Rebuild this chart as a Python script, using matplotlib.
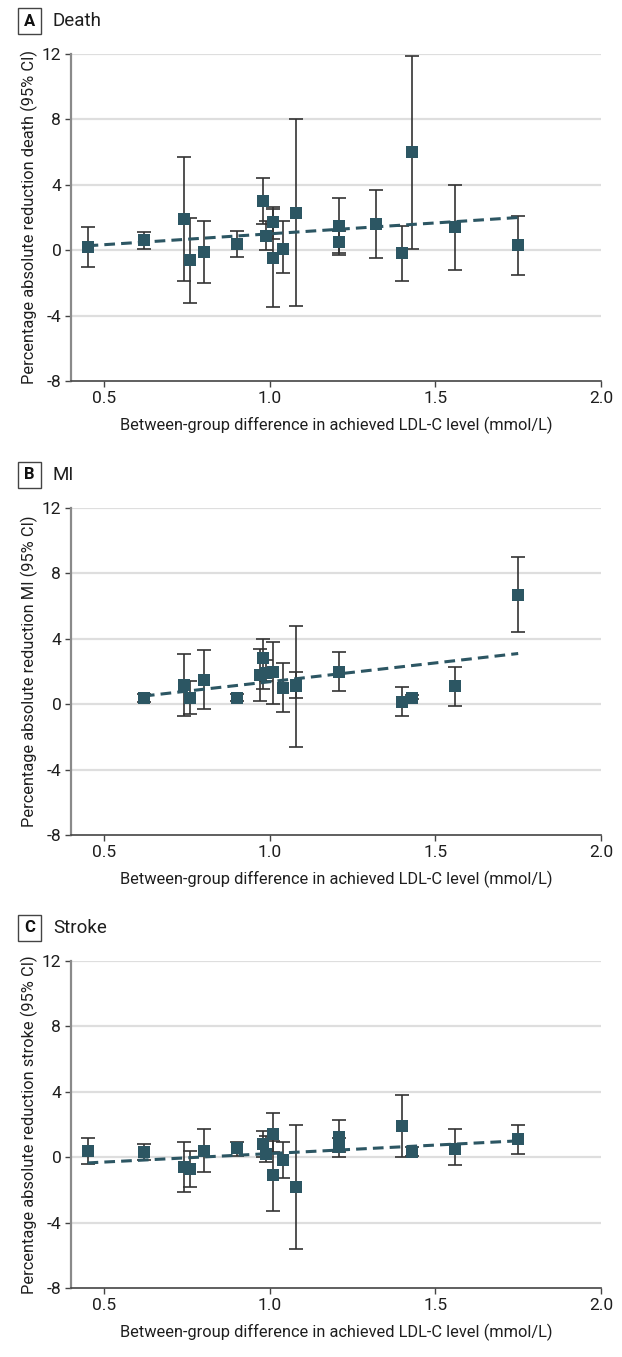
import matplotlib
matplotlib.use('Agg')
import matplotlib.pyplot as plt

plt.rcParams['font.family'] = ['Roboto', 'DejaVu Sans']
plt.rcParams['axes.unicode_minus'] = False

FIG_W = 622
FIG_H = 1357
DPI = 100

MARK_COLOR = '#2c5663'
BAR_COLOR = '#333333'
GRID_COLOR = '#dedede'
TEXT_COLOR = '#1e1e1e'

# Panel A: death
death_x = [0.45, 0.62, 0.74, 0.76, 0.80, 0.90, 0.98, 0.99, 1.01, 1.01, 1.04, 1.08, 1.21, 1.21, 1.32, 1.40, 1.43, 1.56, 1.75]
death_y = [0.2, 0.6, 1.9, -0.6, -0.1, 0.35, 3.0, 0.85, 1.7, -0.5, 0.05, 2.25, 1.45, 0.5, 1.6, -0.2, 6.0, 1.4, 0.3]
death_lo = [-1.0, 0.1, -1.9, -3.2, -2.0, -0.4, 1.6, 0.0, 0.7, -3.5, -1.4, -3.4, -0.3, -0.2, -0.5, -1.9, 0.1, -1.2, -1.5]
death_hi = [1.4, 1.1, 5.7, 2.0, 1.8, 1.2, 4.4, 1.8, 2.65, 2.5, 1.8, 8.0, 3.2, 1.2, 3.7, 1.5, 11.9, 4.0, 2.1]
death_fit_x = [0.45, 1.75]
death_fit_y = [0.27, 2.0]

# Panel B: MI
mi_x = [0.62, 0.74, 0.76, 0.80, 0.90, 0.97, 0.98, 0.99, 1.01, 1.04, 1.08, 1.08, 1.21, 1.40, 1.43, 1.56, 1.75]
mi_y = [0.4, 1.2, 0.4, 1.5, 0.4, 1.8, 2.8, 1.9, 2.0, 1.0, 1.1, 1.2, 2.0, 0.15, 0.4, 1.1, 6.7]
mi_lo = [0.15, -0.7, -0.6, -0.3, 0.2, 0.2, 0.9, 1.4, 0.0, -0.5, -2.6, 0.4, 0.8, -0.7, 0.3, -0.1, 4.4]
mi_hi = [0.65, 3.1, 1.4, 3.3, 0.6, 3.4, 4.0, 2.7, 3.8, 2.5, 4.8, 2.0, 3.2, 1.05, 0.55, 2.3, 9.0]
mi_fit_x = [0.62, 1.75]
mi_fit_y = [0.5, 3.1]

# Panel C: stroke
stroke_x = [0.45, 0.62, 0.74, 0.76, 0.80, 0.90, 0.98, 0.99, 1.01, 1.01, 1.04, 1.08, 1.21, 1.21, 1.40, 1.43, 1.56, 1.75]
stroke_y = [0.4, 0.3, -0.6, -0.7, 0.4, 0.55, 0.8, 0.2, 1.4, -1.1, -0.2, -1.8, 1.25, 0.6, 1.9, 0.3, 0.5, 1.1]
stroke_lo = [-0.4, -0.2, -2.1, -1.8, -0.9, 0.1, 0.0, -0.3, 0.3, -3.3, -1.3, -5.6, 0.3, 0.0, 0.0, 0.1, -0.5, 0.2]
stroke_hi = [1.2, 0.8, 0.9, 0.4, 1.7, 0.9, 1.6, 1.3, 2.7, 1.0, 0.9, 2.0, 2.3, 1.2, 3.8, 0.6, 1.7, 2.0]
stroke_fit_x = [0.45, 1.75]
stroke_fit_y = [-0.35, 1.0]

x_ticks = [0.5, 1.0, 1.5, 2.0]
x_tick_labels = ['0.5', '1.0', '1.5', '2.0']
y_ticks = [-8, -4, 0, 4, 8, 12]
x_label = 'Between-group difference in achieved LDL-C level (mmol/L)'

PANELS = [
  dict(letter='A', title='Death', outcome='death', top=54,
       x=death_x, y=death_y, lo=death_lo, hi=death_hi, fx=death_fit_x, fy=death_fit_y),
  dict(letter='B', title='MI', outcome='MI', top=508,
       x=mi_x, y=mi_y, lo=mi_lo, hi=mi_hi, fx=mi_fit_x, fy=mi_fit_y),
  dict(letter='C', title='Stroke', outcome='stroke', top=961,
       x=stroke_x, y=stroke_y, lo=stroke_lo, hi=stroke_hi, fx=stroke_fit_x, fy=stroke_fit_y),
]

AX_LEFT = 71
AX_RIGHT = 601
AX_HEIGHT = 327


def draw_panel(fig, p):
  bottom = FIG_H - (p['top'] + AX_HEIGHT)
  ax = fig.add_axes([AX_LEFT / FIG_W, bottom / FIG_H,
                     (AX_RIGHT - AX_LEFT) / FIG_W, AX_HEIGHT / FIG_H])

  xs, ys = p['x'], p['y']
  err_lo = [v - l for v, l in zip(ys, p['lo'])]
  err_hi = [h - v for v, h in zip(ys, p['hi'])]
  ax.errorbar(xs, ys, yerr=[err_lo, err_hi], fmt='none', ecolor=BAR_COLOR,
              elinewidth=1.2, capsize=5, capthick=1.2, zorder=2)
  ax.plot(p['fx'], p['fy'], color=MARK_COLOR, lw=2.2, linestyle=(0, (3.5, 2)), zorder=3)
  ax.plot(xs, ys, 's', color=MARK_COLOR, markersize=8, markeredgewidth=0, zorder=4)

  ax.set_xlim(0.4, 2.0)
  ax.set_ylim(-8, 12)
  ax.set_xticks(x_ticks)
  ax.set_xticklabels(x_tick_labels)
  ax.set_yticks(y_ticks)

  for y in y_ticks[1:]:
    ax.axhline(y, color=GRID_COLOR, lw=1.6, zorder=1)

  for side in ['top', 'right']:
    ax.spines[side].set_visible(False)
  ax.spines['left'].set_color('#8a8a8a')
  ax.spines['left'].set_linewidth(1.6)
  ax.spines['bottom'].set_color('#444444')
  ax.spines['bottom'].set_linewidth(1.2)
  ax.tick_params(axis='both', colors='#444444', labelcolor=TEXT_COLOR,
                 labelsize=12.5, length=4, width=1, pad=3)

  ax.set_xlabel(x_label, fontsize=11.8, color=TEXT_COLOR, labelpad=8)
  ax.set_ylabel(f"Percentage absolute reduction {p['outcome']} (95% CI)",
                fontsize=11.8, color=TEXT_COLOR, labelpad=3)

  # panel letter in a box, then the title
  title_y = 1 - (p['top'] - 33) / FIG_H
  fig.text(29.5 / FIG_W, title_y, p['letter'], fontsize=12, fontweight='bold',
           color='#111111', ha='center', va='center',
           bbox=dict(boxstyle='square,pad=0.35', fc='white', ec='#444444', lw=1))
  fig.text(53 / FIG_W, title_y, p['title'], fontsize=13.5, color=TEXT_COLOR,
           ha='left', va='center')
  return ax


fig = plt.figure(figsize=(FIG_W / DPI, FIG_H / DPI), dpi=DPI)
for p in PANELS:
  draw_panel(fig, p)

fig.savefig('out.png', dpi=DPI)
